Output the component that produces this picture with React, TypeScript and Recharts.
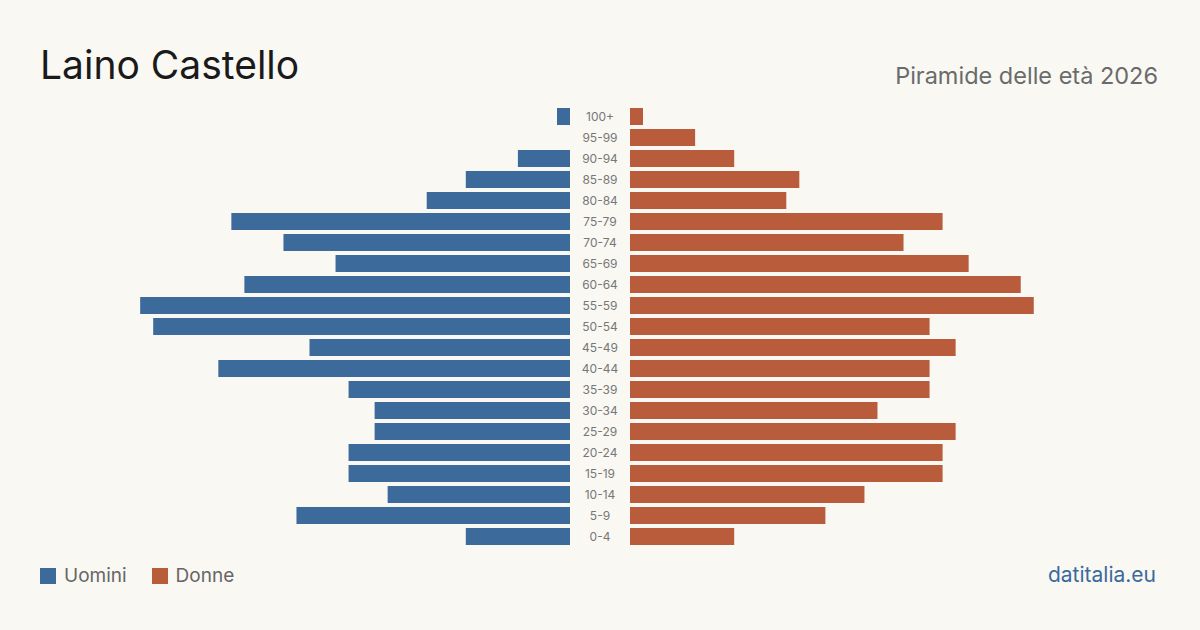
import React from "react";
import { BarChart, Bar, XAxis, YAxis } from "recharts";

// Age classes, top row first
const ageGroups = [
  "100+", "95-99", "90-94", "85-89", "80-84", "75-79", "70-74",
  "65-69", "60-64", "55-59", "50-54", "45-49", "40-44", "35-39",
  "30-34", "25-29", "20-24", "15-19", "10-14", "5-9", "0-4",
];
const men = [1, 0, 4, 8, 11, 26, 22, 18, 25, 33, 32, 20, 27, 17, 15, 15, 17, 17, 14, 21, 8];
const women = [1, 5, 8, 13, 12, 24, 21, 26, 30, 31, 23, 25, 23, 23, 19, 25, 24, 24, 18, 15, 8];

const BLUE = "#3b6a9b";
const RED = "#b95c3b";
const BG = "#f9f8f3";
const FONT = "Inter, 'Noto Sans', sans-serif";

const rows = ageGroups.map((age, i) => ({ age, men: men[i], women: women[i] }));

const MAX = 40;
const SIDE_W = 521;
const PLOT_TOP = 106;
const PLOT_H = 441;

function AgeTick(props: any) {
  const { y, payload } = props;
  return (
    <text
      x={30}
      y={y}
      dy={4}
      textAnchor="middle"
      fontSize={12}
      fill="#777"
      fontFamily={FONT}
    >
      {payload.value}
    </text>
  );
}

function Swatch({ color, label }: { color: string; label: string }) {
  return (
    <div style={{ display: "flex", alignItems: "center", marginRight: 25 }}>
      <div style={{ width: 16, height: 16, background: color, marginRight: 8 }} />
      <span style={{ fontSize: 19, color: "#666" }}>{label}</span>
    </div>
  );
}

export default function App() {
  return (
    <div
      style={{
        position: "fixed",
        left: 0,
        top: 0,
        width: 1200,
        height: 630,
        background: BG,
        fontFamily: FONT,
        overflow: "hidden",
      }}
    >
      <div
        style={{
          position: "absolute",
          left: 40,
          top: 41,
          fontSize: 39,
          color: "#1a1a1a",
        }}
      >
        Laino Castello
      </div>
      <div
        style={{
          position: "absolute",
          right: 42,
          top: 61,
          fontSize: 23.5,
          color: "#6b6b6b",
        }}
      >
        Piramide delle età 2026
      </div>

      {/* men, growing leftwards from the centre */}
      <div style={{ position: "absolute", left: 570 - SIDE_W, top: PLOT_TOP }}>
        <BarChart
          width={SIDE_W}
          height={PLOT_H}
          data={rows}
          layout="vertical"
          margin={{ top: 0, right: 0, bottom: 0, left: 0 }}
        >
          <XAxis type="number" domain={[0, MAX]} reversed hide />
          <YAxis type="category" dataKey="age" hide />
          <Bar dataKey="men" fill={BLUE} barSize={17} isAnimationActive={false} />
        </BarChart>
      </div>

      {/* women, with the age labels in the gap */}
      <div style={{ position: "absolute", left: 570, top: PLOT_TOP }}>
        <BarChart
          width={60 + SIDE_W}
          height={PLOT_H}
          data={rows}
          layout="vertical"
          margin={{ top: 0, right: 0, bottom: 0, left: 0 }}
        >
          <XAxis type="number" domain={[0, MAX]} hide />
          <YAxis
            type="category"
            dataKey="age"
            width={60}
            axisLine={false}
            tickLine={false}
            tick={<AgeTick />}
            interval={0}
          />
          <Bar dataKey="women" fill={RED} barSize={17} isAnimationActive={false} />
        </BarChart>
      </div>

      <div style={{ position: "absolute", left: 40, top: 564, display: "flex" }}>
        <Swatch color={BLUE} label="Uomini" />
        <Swatch color={RED} label="Donne" />
      </div>
      <div
        style={{
          position: "absolute",
          right: 44,
          top: 562,
          fontSize: 21,
          color: BLUE,
        }}
      >
        datitalia.eu
      </div>
    </div>
  );
}
